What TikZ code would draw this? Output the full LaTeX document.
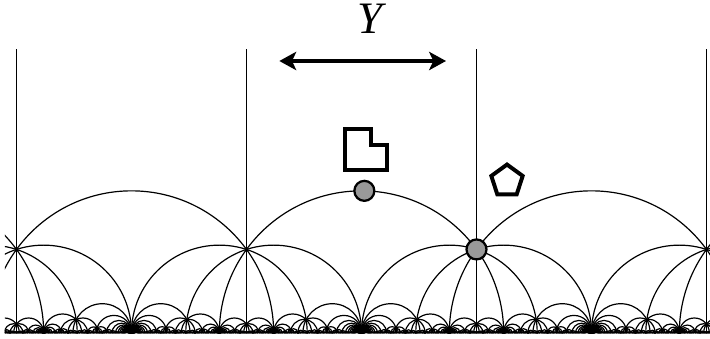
\documentclass[tikz,border=0pt]{standalone}
\usepackage{fontspec}
\setmainfont{Liberation Serif}
\usetikzlibrary{arrows.meta}

\newcommand\geoarc[2]{\draw[geo] (#1,0) arc[start angle=0,end angle=180,radius=#2];}

\ExplSyntaxOn
\fp_const:Nn \c_hk_lam_fp { (1 + sqrt(5)) / 2 }
\fp_const:Nn \c_hk_eps_fp { 0.005 }
\fp_new:N \l_hk_k_fp
\clist_map_inline:nn { pa, pc, qa, qc, ra, rc, sa, sc, ta, tc, x, y }
  { \fp_new:c { l_hk_#1_fp } }

%% one geodesic, given by its two end points on the real line
\cs_new_protected:Npn \hk_geo:nn #1#2
  {
    \fp_set:Nn \l_hk_x_fp { min(#1, #2) }
    \fp_set:Nn \l_hk_y_fp { max(#1, #2) }
    \bool_if:nT
      {
        \fp_compare_p:nNn { \l_hk_y_fp - \l_hk_x_fp } > { 0.003 } &&
        \fp_compare_p:nNn \l_hk_y_fp > { -2.6 } &&
        \fp_compare_p:nNn \l_hk_x_fp < { 2.5 }
      }
      {
        \use:x
          {
            \exp_not:N \geoarc
              { \fp_eval:n { round(\l_hk_y_fp, 5) } }
              { \fp_eval:n { round((\l_hk_y_fp - \l_hk_x_fp) / 2, 5) } }
          }
      }
  }

%% go below an edge of the ideal pentagons, if it is wide enough
\cs_new_protected:Npn \hk_edge:NNNN #1#2#3#4
  {
    \fp_set:Nn \l_hk_x_fp { min(#1 / #2, #3 / #4) }
    \fp_set:Nn \l_hk_y_fp { max(#1 / #2, #3 / #4) }
    \bool_if:nT
      {
        \fp_compare_p:nNn { \l_hk_y_fp - \l_hk_x_fp } > \c_hk_eps_fp &&
        \fp_compare_p:nNn \l_hk_y_fp > { -2.6 } &&
        \fp_compare_p:nNn \l_hk_x_fp < { 2.5 }
      }
      {
        \use:x
          {
            \exp_not:N \hk_pent:nnnn
              { \fp_use:N #1 } { \fp_use:N #2 } { \fp_use:N #3 } { \fp_use:N #4 }
          }
      }
  }

%% pentagon below the edge (p,t): vertices p, q, r, s, t
\cs_new_protected:Npn \hk_pent:nnnn #1#2#3#4
  {
    \group_begin:
      \fp_set:Nn \l_hk_pa_fp {#1}
      \fp_set:Nn \l_hk_pc_fp {#2}
      \fp_set:Nn \l_hk_ta_fp {#3}
      \fp_set:Nn \l_hk_tc_fp {#4}
      \fp_set:Nn \l_hk_qa_fp { \c_hk_lam_fp * \l_hk_pa_fp + \l_hk_ta_fp }
      \fp_set:Nn \l_hk_qc_fp { \c_hk_lam_fp * \l_hk_pc_fp + \l_hk_tc_fp }
      \fp_set:Nn \l_hk_ra_fp { \c_hk_lam_fp * (\l_hk_pa_fp + \l_hk_ta_fp) }
      \fp_set:Nn \l_hk_rc_fp { \c_hk_lam_fp * (\l_hk_pc_fp + \l_hk_tc_fp) }
      \fp_set:Nn \l_hk_sa_fp { \l_hk_pa_fp + \c_hk_lam_fp * \l_hk_ta_fp }
      \fp_set:Nn \l_hk_sc_fp { \l_hk_pc_fp + \c_hk_lam_fp * \l_hk_tc_fp }
      \hk_geo:nn { \l_hk_pa_fp / \l_hk_pc_fp }
                 { (\l_hk_ra_fp + \l_hk_sa_fp) / (\l_hk_rc_fp + \l_hk_sc_fp) }
      \hk_geo:nn { \l_hk_qa_fp / \l_hk_qc_fp }
                 { (\l_hk_sa_fp + \l_hk_ta_fp) / (\l_hk_sc_fp + \l_hk_tc_fp) }
      \hk_geo:nn { \l_hk_sa_fp / \l_hk_sc_fp }
                 { (\l_hk_pa_fp + \l_hk_qa_fp) / (\l_hk_pc_fp + \l_hk_qc_fp) }
      \hk_geo:nn { \l_hk_ta_fp / \l_hk_tc_fp }
                 { (\l_hk_qa_fp + \l_hk_ra_fp) / (\l_hk_qc_fp + \l_hk_rc_fp) }
      \hk_edge:NNNN \l_hk_pa_fp \l_hk_pc_fp \l_hk_qa_fp \l_hk_qc_fp
      \hk_edge:NNNN \l_hk_qa_fp \l_hk_qc_fp \l_hk_ra_fp \l_hk_rc_fp
      \hk_edge:NNNN \l_hk_ra_fp \l_hk_rc_fp \l_hk_sa_fp \l_hk_sc_fp
      \hk_edge:NNNN \l_hk_sa_fp \l_hk_sc_fp \l_hk_ta_fp \l_hk_tc_fp
    \group_end:
  }

%% pentagon with a vertex at infinity, shifted k periods
\cs_new_protected:Npn \hk_top:n #1
  {
    \group_begin:
      \fp_set:Nn \l_hk_k_fp {#1}
      \fp_set:Nn \l_hk_qa_fp { (\l_hk_k_fp + 1) * \c_hk_lam_fp }
      \fp_set:Nn \l_hk_qc_fp { 1 }
      \fp_set:Nn \l_hk_ra_fp { \c_hk_lam_fp + \l_hk_k_fp * \c_hk_lam_fp ^ 2 }
      \fp_set:Nn \l_hk_rc_fp { \c_hk_lam_fp }
      \fp_set:Nn \l_hk_sa_fp { 1 + \l_hk_k_fp * \c_hk_lam_fp ^ 2 }
      \fp_set:Nn \l_hk_sc_fp { \c_hk_lam_fp }
      \fp_set:Nn \l_hk_ta_fp { \l_hk_k_fp * \c_hk_lam_fp }
      \fp_set:Nn \l_hk_tc_fp { 1 }
      \hk_geo:nn { \l_hk_qa_fp }
                 { (\l_hk_sa_fp + \l_hk_ta_fp) / (\l_hk_sc_fp + \l_hk_tc_fp) }
      \hk_geo:nn { \l_hk_k_fp * \c_hk_lam_fp - 1 } { \l_hk_k_fp * \c_hk_lam_fp + 1 }
      \hk_geo:nn { \l_hk_ta_fp }
                 { (\l_hk_qa_fp + \l_hk_ra_fp) / (\l_hk_qc_fp + \l_hk_rc_fp) }
      \hk_edge:NNNN \l_hk_qa_fp \l_hk_qc_fp \l_hk_ra_fp \l_hk_rc_fp
      \hk_edge:NNNN \l_hk_ra_fp \l_hk_rc_fp \l_hk_sa_fp \l_hk_sc_fp
      \hk_edge:NNNN \l_hk_sa_fp \l_hk_sc_fp \l_hk_ta_fp \l_hk_tc_fp
    \group_end:
  }

\NewDocumentCommand \HeckeLines { }
  { \int_step_inline:nnn { -2 } { 2 } { \hk_top:n {##1} } }
\ExplSyntaxOff

\begin{document}
\begin{tikzpicture}[
  x=3.5538cm, y=3.5538cm,
  geo/.style={line width=0.85pt},
  fig/.style={line width=2.8pt, line join=miter},
  dot/.style={circle, draw=black, fill=black!40, line width=1.6pt,
              minimum size=0.5cm, inner sep=0pt},
  arr/.style={{Stealth[length=12pt,width=13pt,inset=3pt]}-{Stealth[length=12pt,width=13pt,inset=3pt]},
              line width=2.6pt},
]
\useasboundingbox (-2.5431,-0.0422) rectangle (2.4516,2.3426);

%% ─ Geodesics ───────────────────────────────────────────────────────────────
\begin{scope}
  \clip (-2.508,-0.0422) rectangle (2.4516,2.1);
  \HeckeLines
  \foreach \k in {-2,...,1}
    \draw[geo] ({(\k+0.5)*1.6180340},0) -- ++(0,2);
\end{scope}

%% ─ Marked points ───────────────────────────────────────────────────────────
\node[dot] (ordtwo)  at (0.02,1)            {};
\node[dot] (ordfive) at (0.809017,0.587785) {};

%% ─ Shapes ──────────────────────────────────────────────────────────────────
\draw[fig] (-0.114,1.1488) -- (-0.114,1.433) -- (0.0668,1.433) -- (0.0668,1.3246)
           -- (0.1815,1.3246) -- (0.1815,1.1488) -- cycle;
\draw[fig] (1.0236,1.069) +(90:0.116) -- +(162:0.116) -- +(234:0.116)
           -- +(306:0.116) -- +(18:0.116) -- cycle;

%% ─ Translation ─────────────────────────────────────────────────────────────
\coordinate (tl) at (-0.578,1.9135);
\coordinate (tr) at (0.5945,1.9135);
\draw[arr] (tl) -- (tr);
\node[font=\fontsize{32}{34}\selectfont\itshape] (ylab) at (0.06,2.2125) {Y};

\end{tikzpicture}
\end{document}
